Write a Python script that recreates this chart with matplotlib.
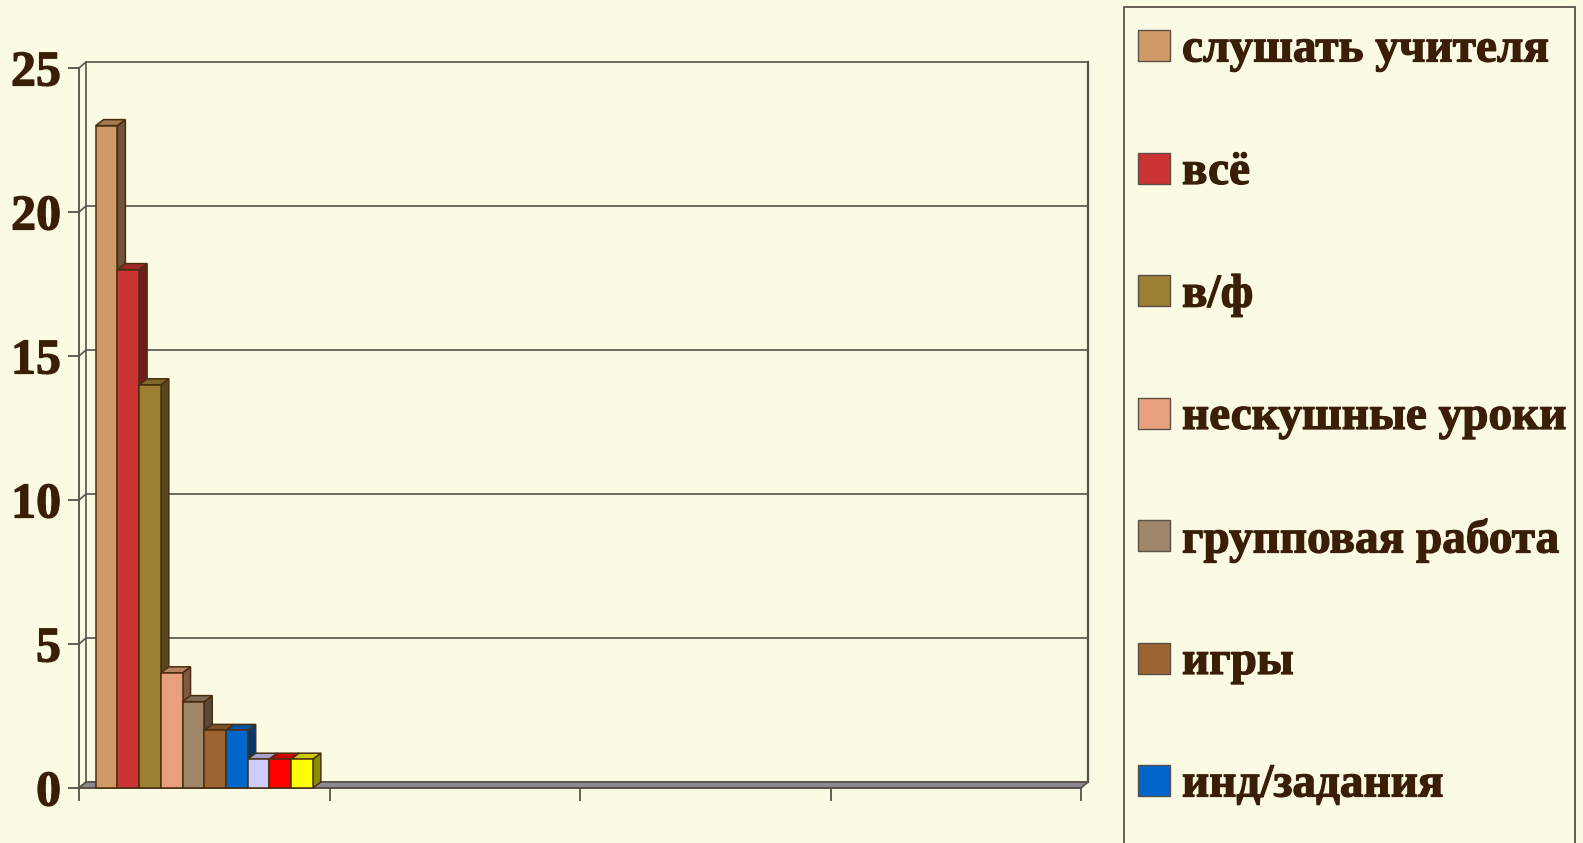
import numpy as np
import matplotlib
matplotlib.use("Agg")
import matplotlib.pyplot as plt
import matplotlib.colors as mcolors
import matplotlib.transforms as mtransforms
import matplotlib.patheffects as pe
from matplotlib.patches import Polygon, Rectangle

# data
categories = ["", "", "", ""]
series_values = [23, 18, 14, 4, 3, 2, 2, 1, 1, 1]
legend_labels = ["слушать учителя", "всё", "в/ф", "нескушные уроки",
                 "групповая работа", "игры", "инд/задания"]
y_ticks = [0, 5, 10, 15, 20, 25]

# style
bar_colors = ["#D09A66", "#CC3333", "#9C7F33", "#E8A07C", "#A08668",
              "#9C6430", "#0066CC", "#CCCCFF", "#FF0000", "#FFFF00"]
bg = "#FBFBE4"
txt = "#3B1E08"
edge = "#4A2E10"
line = "#5A5048"
font = "Liberation Serif"
heavy = [pe.withStroke(linewidth=0.9, foreground=txt)]

W, H = 1583, 843
fig = plt.figure(figsize=(W / 100, H / 100), dpi=100, facecolor=bg)


def fx(x):
    return x / W


def fy(y):
    return 1 - y / H


x0, x1, y0, y1 = 79, 1081, 788, 68
ax = fig.add_axes([fx(x0), fy(y0), (x1 - x0) / W, (y0 - y1) / H])
ax.set_facecolor(bg)
ax.patch.set_alpha(0)
ncat = len(categories)
ymax = y_ticks[-1]
ax.set_xlim(0, ncat)
ax.set_ylim(0, ymax)

# pixel -> data offsets for the pseudo 3d depth
upx = ncat / (x1 - x0)
upy = ymax / (y0 - y1)
wdx, wdy = 7 * upx, 6 * upy
bdx, bdy = 8 * upx, 6 * upy

for s in ["top", "right"]:
    ax.spines[s].set_visible(False)
for s in ["left", "bottom"]:
    ax.spines[s].set_color(line)
    ax.spines[s].set_linewidth(1.3)
ax.set_yticks(y_ticks)
ax.set_yticklabels([str(v) for v in y_ticks], fontfamily=font,
                   fontweight="bold", fontsize=36, color=txt)
shift = mtransforms.ScaledTranslation(0, -4.5 / 100, fig.dpi_scale_trans)
for lab in ax.get_yticklabels():
    lab.set_transform(lab.get_transform() + shift)
    lab.set_path_effects(heavy)
ax.set_xticks(np.arange(ncat + 1))
ax.set_xticklabels([])
ax.tick_params(axis="y", length=8, width=1.3, color=line, pad=5)
ax.tick_params(axis="x", length=9, width=1.3, color=line, direction="out")

# back walls and gridlines
for v in y_ticks:
    ax.plot([0, wdx, ncat + wdx], [v, v + wdy, v + wdy], color=line,
            lw=1.2, clip_on=False, zorder=1)
ax.plot([wdx, wdx], [wdy, ymax + wdy], color=line, lw=1.2, clip_on=False, zorder=1)
ax.plot([ncat + wdx, ncat + wdx], [wdy, ymax + wdy], color=line, lw=1.6,
        clip_on=False, zorder=1)

# floor
ax.add_patch(Polygon([[0, 0], [ncat, 0], [ncat + wdx, wdy], [wdx, wdy]],
                     closed=True, facecolor="#8C8890", edgecolor=line, lw=1.2,
                     clip_on=False, zorder=2))

# bars of the first category
nb = len(series_values)
margin = 0.0665
bw = (1 - 2 * margin) / nb
for i, (v, c) in enumerate(zip(series_values, bar_colors)):
    xl = margin + i * bw
    xr = xl + bw
    rgb = np.array(mcolors.to_rgb(c))
    side = rgb * 0.55
    top = rgb * 0.8
    z = 3 + i
    ax.add_patch(Polygon([[xr, 0], [xr + bdx, bdy], [xr + bdx, v + bdy], [xr, v]],
                         closed=True, facecolor=side, edgecolor=edge, lw=1.1,
                         clip_on=False, zorder=z))
    ax.add_patch(Polygon([[xl, v], [xr, v], [xr + bdx, v + bdy], [xl + bdx, v + bdy]],
                         closed=True, facecolor=top, edgecolor=edge, lw=1.1,
                         clip_on=False, zorder=z))
    ax.bar(xl, v, width=bw, align="edge", color=c, edgecolor=edge, lw=1.1,
           zorder=z + 0.5, clip_on=False)

# legend box (runs past the bottom of the picture)
fig.patches.append(Rectangle((fx(1124), fy(900)), (1575 - 1124) / W, (900 - 7) / H,
                             transform=fig.transFigure, facecolor=bg,
                             edgecolor=line, lw=1.3))
for i, lab in enumerate(legend_labels):
    cy = 45.5 + i * 122.5
    fig.patches.append(Rectangle((fx(1138), fy(cy + 15.5)), 32 / W, 31 / H,
                                 transform=fig.transFigure,
                                 facecolor=bar_colors[i], edgecolor=line, lw=1))
    fig.text(fx(1182), fy(cy), lab, fontfamily=font, fontweight="bold",
             fontsize=34, color=txt, va="center_baseline", ha="left",
             path_effects=heavy)

fig.savefig("out.png", dpi=100, facecolor=bg)
